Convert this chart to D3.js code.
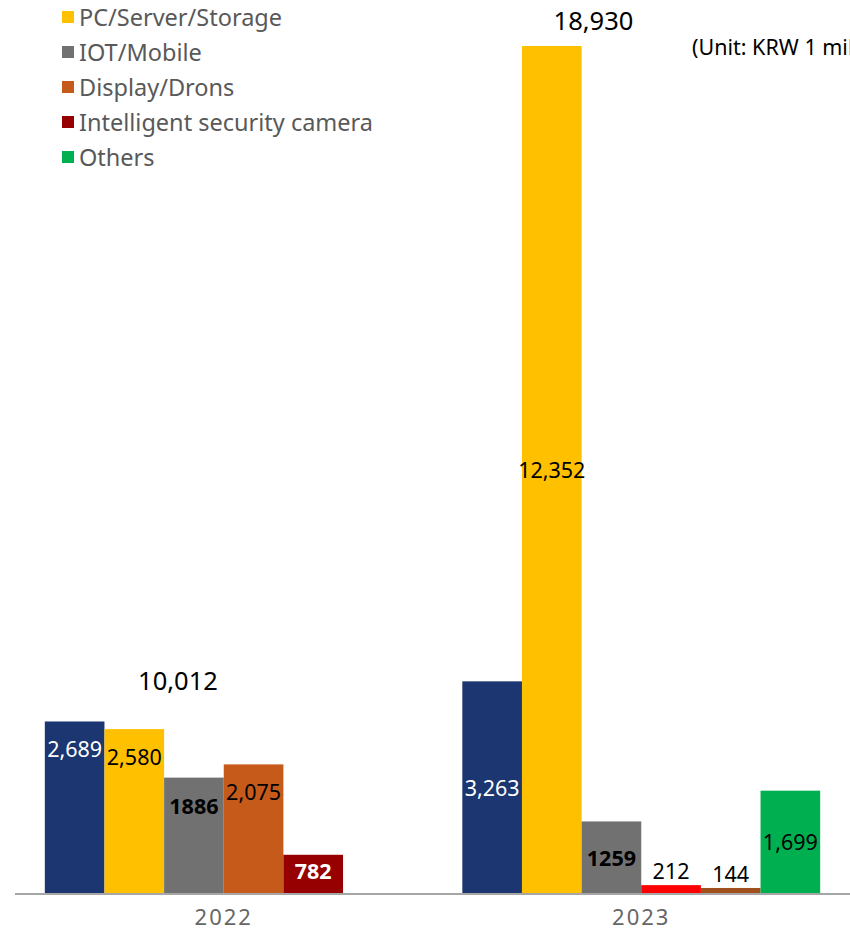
<!DOCTYPE html>
<html lang="en">
<head>
<meta charset="UTF-8">
<title>Sales by application</title>
<script src="https://d3js.org/d3.v7.min.js"></script>
<style>
    body { margin: 0; background: #fff; }
    svg { display: block; font-family: "Noto Sans", "Noto Sans CJK KR", sans-serif; }
</style>
</head>
<body>
<svg width="850" height="932"></svg>
<script>
    // data
    const years = ["2022", "2023"];
    const series = ["Semiconductor", "PC/Server/Storage", "IOT/Mobile", "Display/Drons", "Intelligent security camera", "Others"];
    const values2022 = [2689, 2580, 1886, 2075, 782, null];
    const values2023 = [3263, 12352, 1259, 212, 144, 1699];
    const totals = [10012, 18930];
    const unitText = "(Unit: KRW 1 million)";

    // styling
    const colors = ["#1b3670", "#ffc000", "#717171", "#c55a1b", "#960000", "#00b050"];
    const colors2023 = ["#1b3670", "#ffc000", "#717171", "#ff0000", "#a0501e", "#00b050"];
    const labelFill = ["#fff", "#000", "#000", "#000", "#fff", "#000"];
    const labelBold = [false, false, true, false, true, false];

    const baseY = 894;
    const svg = d3.select("svg");

    const rows = years.map((yr, i) => ({
        year: yr,
        total: totals[i],
        vals: (i === 0 ? values2022 : values2023)
    }));

    const x0 = d3.scaleBand().domain(years).range([15, 850]);
    const x1 = d3.scaleBand().domain(series).range([0, x0.bandwidth()]).paddingOuter(0.5);
    // value axis is not zero-based in the original: small part compressed
    const y = d3.scaleLinear().domain([0, 550, 12352]).range([baseY, 871, 46]);

    const fmt = d3.format(",");
    const plain = d3.format("d");

    const groups = svg.selectAll("g.year")
        .data(rows)
        .enter().append("g")
        .attr("class", "year")
        .attr("transform", d => `translate(${x0(d.year)},0)`);

    groups.each(function(row, yi) {
        const g = d3.select(this);
        const items = series.map((s, i) => ({ s, i, v: row.vals[i] })).filter(d => d.v != null);
        const small = d => (baseY - y(d.v)) < 30;

        g.selectAll("rect")
            .data(items)
            .enter().append("rect")
            .attr("x", d => x1(d.s))
            .attr("y", d => y(d.v))
            .attr("width", x1.bandwidth())
            .attr("height", d => baseY - y(d.v))
            .attr("fill", d => yi === 0 ? colors[d.i] : colors2023[d.i]);

        g.selectAll("text.val")
            .data(items)
            .enter().append("text")
            .attr("class", "val")
            .attr("x", d => x1(d.s) + x1.bandwidth() / 2)
            .attr("y", d => {
                const h = baseY - y(d.v);
                if (small(d)) return y(d.v) - 6;          // label above a tiny bar
                if (yi === 0) return y(d.v) + Math.min(36, h / 2 + 5);
                return (y(d.v) + baseY) / 2 + 8;
            })
            .attr("text-anchor", "middle")
            .attr("font-size", 21.5)
            .attr("font-weight", d => labelBold[d.i] && !small(d) ? 700 : 400)
            .attr("fill", d => small(d) ? "#000" : labelFill[d.i])
            .text(d => d.i === 2 || d.v < 1000 ? plain(d.v) : fmt(d.v));

        // group total on top
        const maxV = d3.max(items, d => d.v);
        g.append("text")
            .attr("x", yi === 0 ? 163 : 161)
            .attr("y", y(maxV) - (yi === 0 ? 31 : 16))
            .attr("text-anchor", "middle")
            .attr("font-size", 25.5)
            .attr("fill", "#000")
            .text(fmt(row.total));
    });

    // category axis
    svg.append("line")
        .attr("x1", 15).attr("x2", 850)
        .attr("y1", baseY).attr("y2", baseY)
        .attr("stroke", "#a6a6a6").attr("stroke-width", 2);

    svg.selectAll("text.cat")
        .data(years)
        .enter().append("text")
        .attr("class", "cat")
        .attr("x", d => x0(d) + x0.bandwidth() / 2)
        .attr("y", 925)
        .attr("text-anchor", "middle")
        .attr("font-size", 22)
        .attr("letter-spacing", 2)
        .attr("fill", "#666")
        .text(d => d);

    // legend (first entry sits above the visible area in the original)
    const legend = svg.append("g").attr("transform", "translate(62,17)");
    const legItems = legend.selectAll("g")
        .data(series.slice(1))
        .enter().append("g")
        .attr("transform", (d, i) => `translate(0,${i * 35})`);
    legItems.append("rect")
        .attr("x", 0).attr("y", -6)
        .attr("width", 12).attr("height", 12)
        .attr("fill", (d, i) => colors[i + 1]);
    legItems.append("text")
        .attr("x", 17).attr("y", 8.5)
        .attr("font-size", 23.5)
        .attr("fill", "#595959")
        .text(d => d);

    svg.append("text")
        .attr("x", 692).attr("y", 55)
        .attr("font-size", 21.5)
        .attr("fill", "#000")
        .text(unitText);
</script>
</body>
</html>
